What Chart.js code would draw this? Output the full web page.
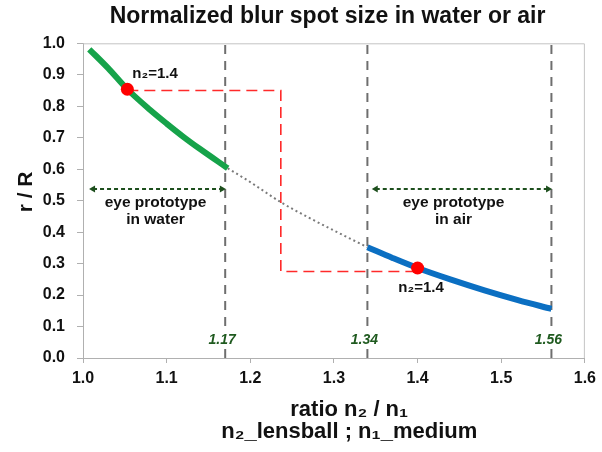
<!DOCTYPE html>
<html lang="en">
<head>
    <meta charset="UTF-8">
    <title>Normalized blur spot size</title>
    <script src="https://cdn.jsdelivr.net/npm/chart.js"></script>
    <style>
        body { margin: 0; background: #fff; }
        .graph { width: 602px; height: 452px; }
    </style>
</head>
<body>
    <div class="graph">
        <canvas id="myChart" width="602" height="452"></canvas>
    </div>

<script>
    // values
    var xTicks = [1.0, 1.1, 1.2, 1.3, 1.4, 1.5, 1.6];
    var yTicks = [0.0, 0.1, 0.2, 0.3, 0.4, 0.5, 0.6, 0.7, 0.8, 0.9, 1.0];

    var waterX = [1.0075, 1.03, 1.053, 1.08, 1.10, 1.12, 1.14, 1.173];
    var waterY = [0.981, 0.921, 0.854, 0.789, 0.745, 0.703, 0.664, 0.603];

    var gapX = [1.173, 1.20, 1.2365, 1.27, 1.30, 1.34];
    var gapY = [0.603, 0.559, 0.495, 0.446, 0.405, 0.352];

    var airX = [1.34, 1.37, 1.40, 1.44, 1.48, 1.52, 1.56];
    var airY = [0.352, 0.318, 0.286, 0.249, 0.215, 0.184, 0.156];

    var dotX = [1.053, 1.40];
    var dotY = [0.854, 0.286];
    var dotLabels = ['n\u2082=1.4', 'n\u2082=1.4'];
    var dotLabelX = [1.059, 1.377];
    var dotLabelY = [0.889, 0.211];

    var pathX = [1.053, 1.2365, 1.2365, 1.40];
    var pathY = [0.85, 0.85, 0.275, 0.275];

    var limitX = [1.17, 1.34, 1.56];
    var limitLabels = ['1.17', '1.34', '1.56'];
    var limitLabelY = 0.045;

    var zoneWaterX = [1.012, 1.166];
    var zoneAirX = [1.35, 1.556];
    var zoneY = 0.537;
    var zoneText = [['eye prototype', 'in water'], ['eye prototype', 'in air']];
    var zoneTextX = [1.0867, 1.443];
    var zoneTextY = 0.479;

    var FONT = "'Liberation Sans', Arial, sans-serif";

    function pts(xs, ys) {
        var out = [];
        for (var i = 0; i < xs.length; i++) out.push({ x: xs[i], y: ys[i] });
        return out;
    }

    var datasets = [];

    datasets.push({
        label: 'n2=1.4',
        data: pts(dotX, dotY),
        showLine: false,
        pointRadius: 6.5,
        pointBackgroundColor: '#ff0000',
        pointBorderWidth: 0
    });
    datasets.push({
        label: 'water',
        data: pts(waterX, waterY),
        showLine: true,
        borderColor: '#16a34a',
        borderWidth: 6,
        pointRadius: 0,
        cubicInterpolationMode: 'monotone'
    });
    datasets.push({
        label: 'air',
        data: pts(airX, airY),
        showLine: true,
        borderColor: '#0b6fc2',
        borderWidth: 6,
        pointRadius: 0,
        cubicInterpolationMode: 'monotone'
    });
    datasets.push({
        label: 'gap',
        data: pts(gapX, gapY),
        showLine: true,
        borderColor: '#7a7a7a',
        borderWidth: 2,
        borderDash: [2, 3],
        pointRadius: 0,
        cubicInterpolationMode: 'monotone'
    });
    datasets.push({
        label: 'path',
        data: pts(pathX, pathY),
        showLine: true,
        borderColor: '#ff2a2a',
        borderWidth: 1.6,
        borderDash: [11, 6],
        pointRadius: 0
    });
    [zoneWaterX, zoneAirX].forEach(function (zx) {
        datasets.push({
            label: 'zone',
            data: pts(zx, [zoneY, zoneY]),
            showLine: true,
            borderColor: '#1d4f1d',
            borderWidth: 1.8,
            borderDash: [4, 3],
            pointStyle: 'triangle',
            pointRadius: 4,
            pointRotation: [270, 90],
            pointBackgroundColor: '#1d4f1d',
            pointBorderWidth: 0
        });
    });
    limitX.forEach(function (lx) {
        datasets.push({
            label: 'limit',
            data: pts([lx, lx], [0, 1]),
            showLine: true,
            borderColor: '#6e6e6e',
            borderWidth: 2,
            borderDash: [9, 7],
            pointRadius: 0
        });
    });

    // top and right edge of the plot box
    var frame = {
        id: 'frame',
        beforeDatasetsDraw: function (chart) {
            var a = chart.chartArea, ctx = chart.ctx;
            ctx.save();
            ctx.strokeStyle = '#c4c4c4';
            ctx.lineWidth = 1;
            ctx.beginPath();
            ctx.moveTo(a.left, a.top + 0.5);
            ctx.lineTo(a.right - 0.5, a.top + 0.5);
            ctx.lineTo(a.right - 0.5, a.bottom);
            ctx.stroke();
            ctx.restore();
        }
    };

    var notes = {
        id: 'notes',
        afterDatasetsDraw: function (chart) {
            var ctx = chart.ctx, x = chart.scales.x, y = chart.scales.y;
            ctx.save();

            // limit values near the bottom
            ctx.font = 'italic bold 14px ' + FONT;
            ctx.textAlign = 'center';
            ctx.textBaseline = 'alphabetic';
            for (var i = 0; i < limitX.length; i++) {
                var px = x.getPixelForValue(limitX[i]);
                var py = y.getPixelForValue(limitLabelY);
                var w = ctx.measureText(limitLabels[i]).width;
                ctx.fillStyle = '#fff';
                ctx.fillRect(px - w / 2 - 2, py - 13, w + 4, 17);
                ctx.fillStyle = '#1f5a1f';
                ctx.fillText(limitLabels[i], px - 3, py);
            }

            // zone captions
            ctx.font = 'bold 15.5px ' + FONT;
            ctx.fillStyle = '#111';
            for (var j = 0; j < zoneText.length; j++) {
                var cx = x.getPixelForValue(zoneTextX[j]);
                var cy = y.getPixelForValue(zoneTextY);
                ctx.fillText(zoneText[j][0], cx, cy);
                ctx.fillText(zoneText[j][1], cx, cy + 17);
            }

            // marker captions
            ctx.font = 'bold 15px ' + FONT;
            ctx.textAlign = 'left';
            for (var k = 0; k < dotLabels.length; k++) {
                ctx.fillText(dotLabels[k], x.getPixelForValue(dotLabelX[k]), y.getPixelForValue(dotLabelY[k]));
            }
            ctx.restore();
        }
    };

    var ctx = document.getElementById('myChart');
    new Chart(ctx, {
        type: 'scatter',
        data: { datasets: datasets },
        options: {
            responsive: false,
            animation: false,
            layout: { padding: { left: 0, right: 15, top: 0, bottom: 0 } },
            plugins: {
                legend: { display: false },
                tooltip: { enabled: false },
                title: {
                    display: true,
                    fullSize: false,
                    text: 'Normalized blur spot size in water or air  ',
                    color: '#111',
                    font: { family: FONT, size: 23, weight: 'bold', lineHeight: 1.0 },
                    padding: { top: 5.5, bottom: 14.8 }
                }
            },
            scales: {
                x: {
                    type: 'linear',
                    min: 1.0,
                    max: 1.6,
                    afterBuildTicks: function (scale) {
                        scale.ticks = xTicks.map(function (v) { return { value: v }; });
                    },
                    afterFit: function (scale) { scale.height = 94; },
                    ticks: {
                        color: '#111',
                        padding: 6,
                        font: { family: FONT, size: 16, weight: 'bold' },
                        callback: function (v) { return Number(v).toFixed(1); }
                    },
                    grid: { drawOnChartArea: false, drawTicks: true, tickLength: 5, color: '#b0b0b0' },
                    border: { display: true, color: '#b0b0b0' },
                    title: {
                        display: true,
                        text: ['     ratio n\u2082 / n\u2081', '     n\u2082_lensball ; n\u2081_medium'],
                        color: '#111',
                        font: { family: FONT, size: 22, weight: 'bold', lineHeight: 0.99 },
                        padding: { top: 0, bottom: 9.6 }
                    }
                },
                y: {
                    type: 'linear',
                    min: 0,
                    max: 1.0,
                    afterBuildTicks: function (scale) {
                        scale.ticks = yTicks.map(function (v) { return { value: v }; });
                    },
                    afterFit: function (scale) { scale.width = 83; },
                    ticks: {
                        color: '#111',
                        padding: 12,
                        font: { family: FONT, size: 16, weight: 'bold' },
                        callback: function (v) { return Number(v).toFixed(1); }
                    },
                    grid: { drawOnChartArea: false, drawTicks: true, tickLength: 6, color: '#b0b0b0' },
                    border: { display: true, color: '#b0b0b0' },
                    title: {
                        display: true,
                        text: '   r / R',
                        color: '#111',
                        font: { family: FONT, size: 21, weight: 'bold' },
                        padding: { top: 13.4, bottom: 0 }
                    }
                }
            }
        },
        plugins: [frame, notes]
    });
</script>
</body>
</html>
